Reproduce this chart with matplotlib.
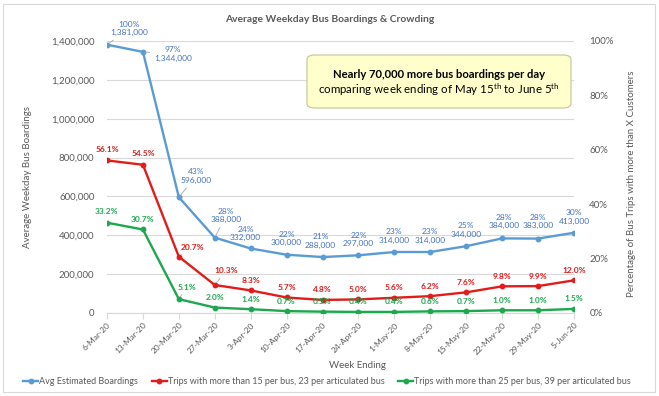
import matplotlib
matplotlib.use('Agg')
import matplotlib.pyplot as plt
from matplotlib.patches import FancyBboxPatch, Rectangle
from matplotlib.ticker import FuncFormatter

weeks = ['6-Mar-20', '13-Mar-20', '20-Mar-20', '27-Mar-20', '3-Apr-20', '10-Apr-20',
         '17-Apr-20', '24-Apr-20', '1-May-20', '8-May-20', '15-May-20', '22-May-20',
         '29-May-20', '5-Jun-20']
boardings = [1381000, 1344000, 596000, 388000, 332000, 300000, 288000, 297000,
             314000, 314000, 344000, 384000, 383000, 413000]
boarding_pct = [100, 97, 43, 28, 24, 22, 21, 22, 23, 23, 25, 28, 28, 30]
trips15 = [56.1, 54.5, 20.7, 10.3, 8.3, 5.7, 4.8, 5.0, 5.6, 6.2, 7.6, 9.8, 9.9, 12.0]
trips25 = [33.2, 30.7, 5.1, 2.0, 1.4, 0.7, 0.5, 0.4, 0.4, 0.6, 0.7, 1.0, 1.0, 1.5]
series_names = ['Avg Estimated Boardings',
                'Trips with more than 15 per bus, 23 per articulated bus',
                'Trips with more than 25 per bus, 39 per articulated bus']

plt.rcParams['font.family'] = ['Lato', 'DejaVu Sans']
plt.rcParams['mathtext.fontset'] = 'custom'
plt.rcParams['mathtext.rm'] = 'Lato'
plt.rcParams['mathtext.it'] = 'Lato:italic'
plt.rcParams['mathtext.bf'] = 'Lato:bold'

GRAY = '#595959'
GRID = '#D9D9D9'
BLUE = '#5B9BD5'
BLUE_T = '#4472C4'
RED = '#E31B1B'
GREEN = '#1DA84F'

W, H = 659, 396
fig = plt.figure(figsize=(W / 100, H / 100), dpi=100)
ax = fig.add_axes([107 / W, 1 - 313 / H, (574 - 107) / W, (313 - 41) / H])
ax2 = ax.twinx()

x = list(range(len(weeks)))
l1, = ax.plot(x, boardings, color=BLUE, lw=1.7, marker='o', ms=3.2, zorder=3)
l2, = ax2.plot(x, trips15, color=RED, lw=1.7, marker='o', ms=3.2, zorder=3)
l3, = ax2.plot(x, trips25, color=GREEN, lw=1.7, marker='o', ms=3.2, zorder=3)

ax.set_xlim(0, len(weeks) - 1)
ax.set_ylim(0, 1400000)
ax2.set_ylim(0, 100)
ax.set_yticks(range(0, 1400001, 200000))
ax2.set_yticks(range(0, 101, 20))
ax.yaxis.set_major_formatter(FuncFormatter(lambda v, p: f'{int(v):,}'))
ax2.yaxis.set_major_formatter(FuncFormatter(lambda v, p: f'{int(v)}%'))
ax.grid(axis='y', color=GRID, lw=0.8)
ax.set_axisbelow(True)
for a in (ax, ax2):
    for s in ('top', 'left', 'right'):
        a.spines[s].set_visible(False)
    a.spines['bottom'].set_color(GRID)
ax.tick_params(axis='y', length=0, pad=9, labelsize=7, labelcolor=GRAY)
ax2.tick_params(axis='y', length=0, pad=11, labelsize=7, labelcolor=GRAY)
ax.set_xticks(x)
ax.set_xticklabels(weeks, rotation=45, ha='right', rotation_mode='anchor')
ax.tick_params(axis='x', length=4, color=GRID, labelsize=6, labelcolor=GRAY, pad=2)

lead = dict(arrowstyle='-', color='#A6A6A6', lw=0.6, shrinkA=1, shrinkB=2)

blue_off = [(22, 16), (30, -2), (17, 21), (11, 22), (-5, 15), (0, 16), (-2, 16), (0, 16),
            (0, 16), (0, 16), (0, 16), (2, 17), (0, 17), (0, 16)]
blue_lead = [0, 1, 2, 3]
for i in x:
    ax.annotate(f'{boarding_pct[i]}%\n{boardings[i]:,}', (i, boardings[i]),
                xytext=blue_off[i], textcoords='offset pixels', ha='center', va='center',
                fontsize=6, color=BLUE_T, linespacing=1.25,
                arrowprops=lead if i in blue_lead else None, zorder=5)

red_off = [(0, 11), (0, 11), (14, 9), (11, 14)] + [(0, 10)] * 10
red_lead = [2, 3]
for i in x:
    ax2.annotate(f'{trips15[i]:.1f}%', (i, trips15[i]), xytext=red_off[i],
                 textcoords='offset pixels', ha='center', va='center', fontsize=6,
                 fontweight='bold', color=RED,
                 arrowprops=lead if i in red_lead else None, zorder=5)

green_off = [(0, 11), (0, 10), (8, 12)] + [(0, 10)] * 11
green_lead = [2]
for i in x:
    ax2.annotate(f'{trips25[i]:.1f}%', (i, trips25[i]), xytext=green_off[i],
                 textcoords='offset pixels', ha='center', va='center', fontsize=6,
                 fontweight='bold', color=GREEN,
                 arrowprops=lead if i in green_lead else None, zorder=5)

fig.text(330 / W, 1 - 20 / H, 'Average Weekday Bus Boardings & Crowding',
         ha='center', va='center', fontsize=7.4, fontweight='bold', color=GRAY)
fig.text(27 / W, 1 - 177 / H, 'Average Weekday Bus Boardings', rotation=90,
         ha='center', va='center', fontsize=7, color=GRAY)
fig.text(632 / W, 1 - 184 / H, 'Percentage of Bus Trips with more than X Customers',
         rotation=90, ha='center', va='center', fontsize=7, color=GRAY)
fig.text(357 / W, 1 - 366 / H, 'Week Ending', ha='center', va='center',
         fontsize=7, color=GRAY)

fig.legend([l1, l2, l3], series_names, loc='center', bbox_to_anchor=(327 / W, 1 - 382 / H),
           ncol=3, frameon=False, fontsize=6.5, handlelength=1.7, columnspacing=1.5,
           numpoints=1, labelcolor=GRAY, handletextpad=0.1)

box = FancyBboxPatch((307 / W, 1 - 108 / H), 264 / W, 53 / H,
                     boxstyle='round,pad=0,rounding_size=0.012',
                     transform=fig.transFigure, facecolor='#FFFFCC',
                     edgecolor='#C9C9A2', lw=0.9, zorder=10)
fig.patches.append(box)
fig.text(439 / W, 1 - 75 / H, 'Nearly 70,000 more bus boardings per day',
         ha='center', va='center', fontsize=8.1, fontweight='bold', color='black', zorder=11)
fig.text(439 / W, 1 - 90 / H,
         r'comparing week ending of May $15^{\mathrm{th}}$ to June $5^{\mathrm{th}}$',
         ha='center', va='center', fontsize=8.3, color='black', zorder=11)

border = Rectangle((3 / W, 4 / H), 652 / W, 388 / H, transform=fig.transFigure,
                   fill=False, edgecolor=GRID, lw=0.8)
fig.patches.append(border)

fig.savefig('out.png', dpi=100)
